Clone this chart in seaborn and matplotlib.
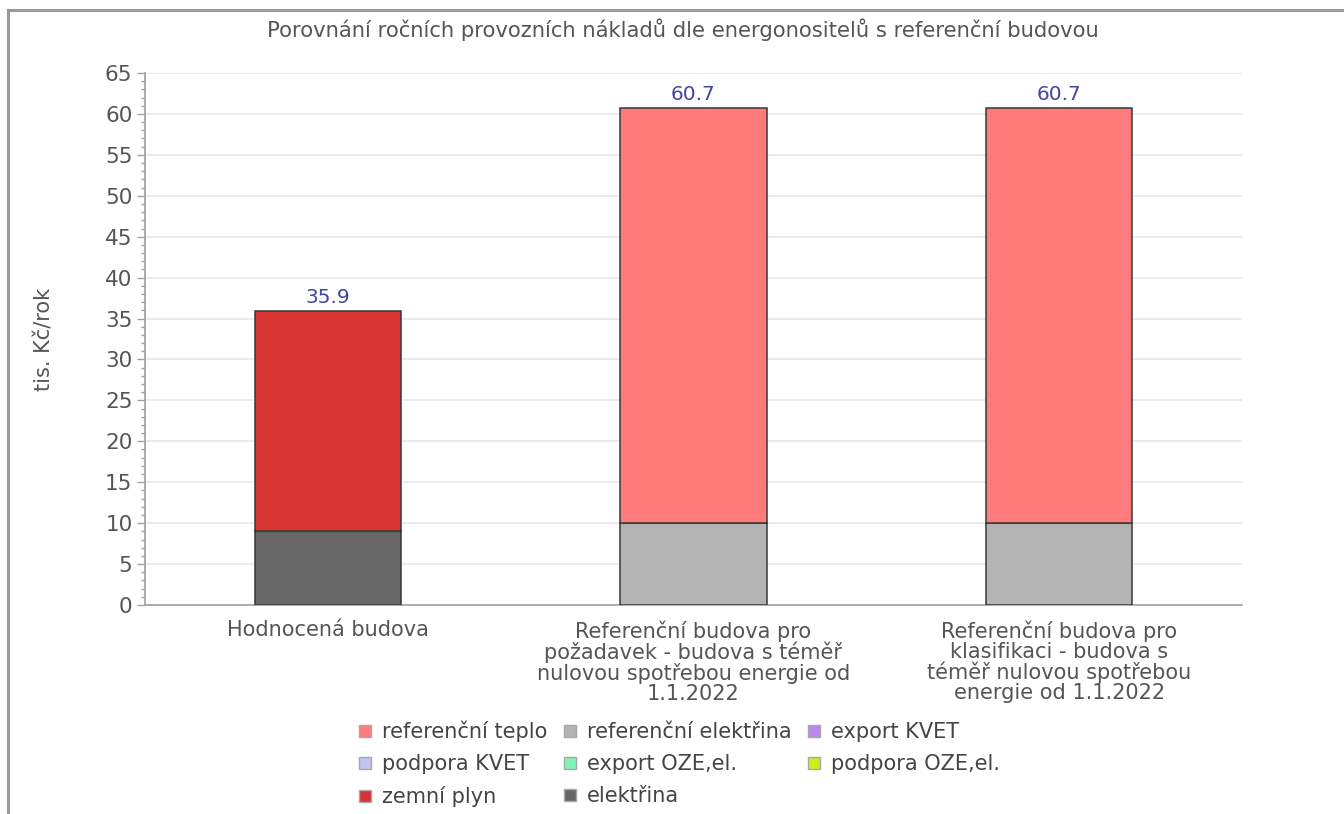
import numpy as np
import pandas as pd
import matplotlib
matplotlib.use("Agg")
import matplotlib.pyplot as plt
from matplotlib.lines import Line2D
from matplotlib.patches import Rectangle
from matplotlib.ticker import MultipleLocator
import seaborn as sns

# ---------------- data ----------------
categories = [
    "Hodnocená budova",
    "Referenční budova pro\npožadavek - budova s téměř\nnulovou spotřebou energie od\n1.1.2022",
    "Referenční budova pro\nklasifikaci - budova s\ntéměř nulovou spotřebou\nenergie od 1.1.2022",
]
# stacked from bottom to top
elektrina = [9.1, 0.0, 0.0]
ref_elektrina = [0.0, 10.0, 10.0]
zemni_plyn = [26.8, 0.0, 0.0]
ref_teplo = [0.0, 50.7, 50.7]
export_kvet = [0.0, 0.0, 0.0]
podpora_kvet = [0.0, 0.0, 0.0]
export_oze = [0.0, 0.0, 0.0]
podpora_oze = [0.0, 0.0, 0.0]

title = "Porovnání ročních provozních nákladů dle energonositelů s referenční budovou"
ylabel = "tis. Kč/rok"

stack_series = [
    ("elektřina", elektrina, "#676767"),
    ("referenční elektřina", ref_elektrina, "#b4b4b4"),
    ("zemní plyn", zemni_plyn, "#d93434"),
    ("referenční teplo", ref_teplo, "#ff7b7b"),
    ("export KVET", export_kvet, "#bb88f2"),
    ("podpora KVET", podpora_kvet, "#c4c4f4"),
    ("export OZE,el.", export_oze, "#80f4b4"),
    ("podpora OZE,el.", podpora_oze, "#c8f01c"),
]
legend_order = [
    "referenční teplo", "referenční elektřina", "export KVET",
    "podpora KVET", "export OZE,el.", "podpora OZE,el.",
    "zemní plyn", "elektřina",
]

# ---------------- plot ----------------
sns.set_theme(style="white")
plt.rcParams["font.family"] = ["DejaVu Sans"]
text_col = "#555555"

fig = plt.figure(figsize=(13.44, 8.14), dpi=100)
ax = fig.add_axes([145 / 1344, 1 - 605 / 814, (1242 - 145) / 1344, (605 - 73) / 814])

bottoms = np.zeros(len(categories))
for name, vals, col in stack_series:
    vals = np.asarray(vals, dtype=float)
    mask = vals > 0
    if mask.any():
        df = pd.DataFrame({"cat": [c for c, m in zip(categories, mask) if m],
                           "val": vals[mask]})
        sns.barplot(data=df, x="cat", y="val", order=categories, color=col,
                    width=0.4, edgecolor="#383838", linewidth=1.1,
                    bottom=bottoms[mask], ax=ax, zorder=3, saturation=1)
    bottoms += vals

totals = bottoms
for i, t in enumerate(totals):
    ax.text(i, t + 0.5, f"{t:.1f}", ha="center", va="bottom",
            color="#4444a0", fontsize=14.5, zorder=4)

ax.set_ylim(0, 65)
ax.set_xlim(-0.5, len(categories) - 0.5)
ax.yaxis.set_major_locator(MultipleLocator(5))
ax.yaxis.set_minor_locator(MultipleLocator(1))
ax.grid(axis="y", which="major", color="#e8e8e8", linewidth=1.2, zorder=0)
ax.grid(axis="x", visible=False)
ax.set_axisbelow(True)

for s in ["top", "right"]:
    ax.spines[s].set_visible(False)
ax.spines["left"].set_color("#a0a0a0")
ax.spines["bottom"].set_color("#a0a0a0")
ax.spines["left"].set_linewidth(1.2)
ax.spines["bottom"].set_linewidth(1.2)

ax.tick_params(axis="y", which="major", left=True, length=6, width=1,
               color="#a0a0a0", labelsize=15.5, labelcolor=text_col, pad=3)
ax.tick_params(axis="y", which="minor", left=True, length=3, width=1,
               color="#a0a0a0")
ax.tick_params(axis="x", bottom=False, labelsize=15, labelcolor=text_col, pad=5)
for lbl in ax.get_xticklabels():
    lbl.set_linespacing(1.0)

ax.set_xlabel("")
ax.set_ylabel(ylabel, fontsize=15, color=text_col, labelpad=36)

fig.text(0.508, 1 - 30 / 814, title, ha="center", va="center",
         fontsize=15.2, color=text_col)

# legend
color_map = {n: c for n, _, c in stack_series}
handles = {n: Line2D([], [], marker="s", linestyle="none", markersize=8,
                     markerfacecolor=color_map[n], markeredgecolor="#a8a8a8",
                     markeredgewidth=1.0, label=n) for n in legend_order}
ncol = 3
nrows = int(np.ceil(len(legend_order) / ncol))
ordered = []
for c in range(ncol):
    for r in range(nrows):
        idx = r * ncol + c
        if idx < len(legend_order):
            ordered.append(handles[legend_order[idx]])
leg = fig.legend(handles=ordered, loc="upper center",
                 bbox_to_anchor=(0.504, 1 - 702 / 814), ncol=ncol,
                 frameon=False, fontsize=15, labelspacing=0.58,
                 columnspacing=0.6, handletextpad=0.3, handlelength=1.0)
for t in leg.get_texts():
    t.set_color("#444444")

# outer border (top and left visible)
fig.patches.append(Rectangle((8 / 1344, -0.1), 1.2, 1 - 10 / 814 + 0.1,
                             transform=fig.transFigure, fill=False,
                             edgecolor="#9a9a9a", linewidth=2.2))

fig.savefig("out.png", dpi=100)
